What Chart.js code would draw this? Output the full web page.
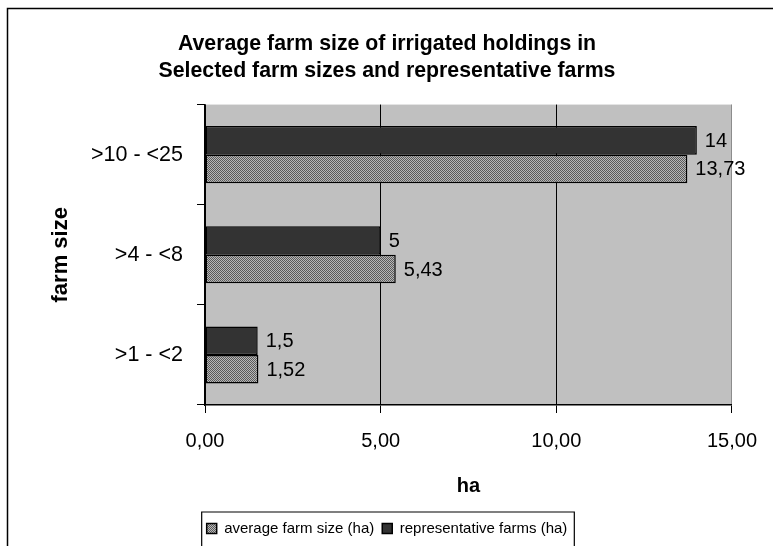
<!DOCTYPE html>
<html>
<head>
<meta charset="utf-8">
<title>Average farm size of irrigated holdings</title>
<script src="https://cdn.jsdelivr.net/npm/chart.js@4/dist/chart.umd.min.js"></script>
<style>
  html, body { margin: 0; padding: 0; background: #ffffff; }
  #wrap { width: 773px; height: 546px; }
</style>
</head>
<body>
<div id="wrap"><canvas id="chart" width="773" height="546"></canvas></div>
<script>
// Farm size classes, listed top to bottom
const categories = ['>10 - <25', '>4 - <8', '>1 - <2'];
// Representative farms (ha)
const representativeFarms = [14, 5, 1.5];
// Average farm size (ha)
const averageFarmSize = [13.73, 5.43, 1.52];
// Value axis ticks
const xTicks = [0, 5, 10, 15];

const FONT = "'Liberation Sans', Arial, Helvetica, sans-serif";
const comma = v => String(v).replace('.', ',');

// Fine checkered grey fill for the average series
function checkerPattern() {
  const c = document.createElement('canvas');
  c.width = 2; c.height = 2;
  const g = c.getContext('2d');
  g.fillStyle = '#b8b8b8'; g.fillRect(0, 0, 2, 2);
  g.fillStyle = '#5a5a5a'; g.fillRect(0, 0, 1, 1); g.fillRect(1, 1, 1, 1);
  return g.createPattern(c, 'repeat');
}

// Grey plot background and outer frame
const frame = {
  id: 'frame',
  beforeDraw(chart) {
    const { ctx, chartArea: a } = chart;
    ctx.save();
    ctx.fillStyle = '#c0c0c0';
    ctx.fillRect(a.left, a.top, a.right - a.left, a.bottom - a.top);
    ctx.restore();
  },
  afterDraw(chart) {
    const ctx = chart.ctx;
    ctx.save();
    ctx.strokeStyle = '#000';
    ctx.lineWidth = 1.5;
    ctx.beginPath();
    ctx.moveTo(7.5, chart.height);
    ctx.lineTo(7.5, 8.5);
    ctx.lineTo(chart.width, 8.5);
    ctx.stroke();
    // box around the legend entries
    const hb = chart.legend.legendHitBoxes;
    if (hb && hb.length) {
      const l = Math.min(...hb.map(h => h.left)) - 5;
      const r = Math.max(...hb.map(h => h.left + h.width)) + 7;
      const t = chart.legend.top - 1;
      ctx.lineWidth = 1.2;
      ctx.beginPath();
      ctx.moveTo(l, chart.height + 2);
      ctx.lineTo(l, t);
      ctx.lineTo(r, t);
      ctx.lineTo(r, chart.height + 2);
      ctx.stroke();
    }
    ctx.restore();
  }
};

// Value labels at the end of each bar
const valueLabels = {
  id: 'valueLabels',
  afterDatasetsDraw(chart) {
    const ctx = chart.ctx;
    ctx.save();
    ctx.font = '20px ' + FONT;
    ctx.fillStyle = '#000';
    ctx.textAlign = 'left';
    ctx.textBaseline = 'middle';
    chart.data.datasets.forEach((ds, i) => {
      chart.getDatasetMeta(i).data.forEach((bar, j) => {
        ctx.fillText(comma(ds.data[j]), bar.x + 8, bar.y + 1);
      });
    });
    ctx.restore();
  }
};

new Chart(document.getElementById('chart'), {
  type: 'bar',
  data: {
    labels: categories,
    datasets: [
      {
        label: 'representative farms (ha)',
        data: representativeFarms,
        backgroundColor: '#333333',
        borderColor: '#000000',
        borderWidth: 1.5,
        borderSkipped: false
      },
      {
        label: 'average farm size (ha)',
        data: averageFarmSize,
        backgroundColor: checkerPattern(),
        borderColor: '#000000',
        borderWidth: 1.5,
        borderSkipped: false
      }
    ]
  },
  options: {
    indexAxis: 'y',
    responsive: false,
    animation: false,
    devicePixelRatio: 1,
    datasets: { bar: { categoryPercentage: 0.57, barPercentage: 1.0 } },
    layout: { padding: { left: 38, right: 37, top: 0, bottom: 0 } },
    scales: {
      x: {
        min: 0,
        max: 15,
        afterBuildTicks: s => { s.ticks = xTicks.map(v => ({ value: v })); },
        afterFit: s => { s.height = 108; },
        ticks: {
          padding: 16,
          color: '#000',
          font: { family: FONT, size: 20 },
          callback: v => Number(v).toFixed(2).replace('.', ',')
        },
        grid: {
          color: ctx => (ctx.tick && ctx.tick.value === 15 ? '#8c8c8c' : '#000'),
          tickColor: '#000',
          tickLength: 8,
          lineWidth: 1
        },
        border: { color: '#000', width: 1.5 },
        title: {
          display: true,
          text: 'ha',
          color: '#000',
          font: { family: FONT, size: 20, weight: 'bold' },
          padding: { top: 0, bottom: 15 }
        }
      },
      y: {
        afterFit: s => { s.width = 167; },
        ticks: {
          padding: 14,
          color: '#000',
          font: { family: FONT, size: 21.5 }
        },
        grid: {
          drawOnChartArea: false,
          offset: true,
          color: '#000',
          tickLength: 8
        },
        border: { color: '#000', width: 1.5 },
        title: {
          display: true,
          text: 'farm size',
          color: '#000',
          font: { family: FONT, size: 22, weight: 'bold' },
          padding: { top: 10, bottom: 0 }
        }
      }
    },
    plugins: {
      title: {
        display: true,
        text: ['Average farm size of irrigated holdings in', 'Selected farm sizes and representative farms'],
        color: '#000',
        font: { family: FONT, size: 21.3, weight: 'bold', lineHeight: 1.3 },
        padding: { top: 30, bottom: 19.2 }
      },
      legend: {
        position: 'bottom',
        reverse: true,
        labels: {
          color: '#000',
          boxWidth: 10,
          boxHeight: 10,
          padding: 8,
          font: { family: FONT, size: 15 }
        }
      },
      tooltip: { enabled: false }
    }
  },
  plugins: [frame, valueLabels]
});
</script>
</body>
</html>
